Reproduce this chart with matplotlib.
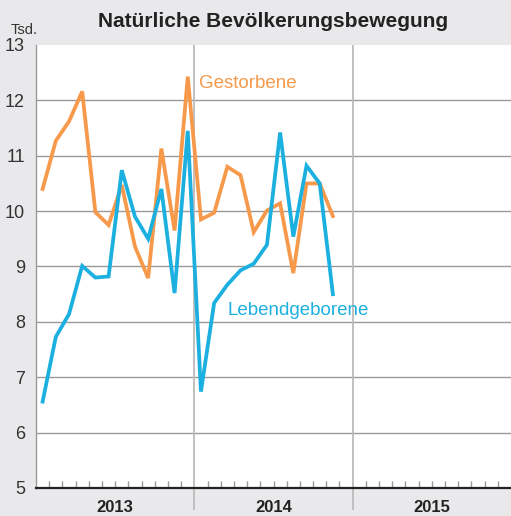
import numpy as np
import matplotlib.pyplot as plt

# -------------------------------
# Data (Tsd., monthly 2013 - Nov 2014)
# -------------------------------
gestorbene = [10.40, 11.27, 11.62, 12.16, 9.98, 9.75, 10.47, 9.36, 8.79, 11.13, 9.65, 12.43,
              9.85, 9.97, 10.80, 10.65, 9.62, 10.01, 10.14, 8.88, 10.50, 10.50, 9.91]
lebendgeborene = [6.56, 7.73, 8.14, 9.01, 8.80, 8.82, 10.74, 9.90, 9.50, 10.40, 8.52, 11.45,
                  6.74, 8.34, 8.67, 8.93, 9.05, 9.39, 11.42, 9.54, 10.82, 10.50, 8.50]
years = ["2013", "2014", "2015"]
yticks = [5, 6, 7, 8, 9, 10, 11, 12, 13]

orange = "#f7994a"
blue = "#1cb0e0"
bg = "#e9e9eb"
font = ["Liberation Sans", "DejaVu Sans"]

fig = plt.figure(figsize=(5.11, 5.16), dpi=100, facecolor=bg)
ax = fig.add_axes([0.0705, 0.0543, 0.9295, 0.8585])
ax.set_facecolor("white")

x_g = np.arange(len(gestorbene)) + 0.5
x_l = np.arange(len(lebendgeborene)) + 0.5

ax.set_xlim(0, 36)
ax.set_ylim(5, 13)

for y in yticks[1:-1]:
    ax.axhline(y, color="#999999", lw=1.0, zorder=1)

# year separators (reach down into label area)
ax.vlines([12, 24], 4.6, 13, color="#bbbbbb", lw=1.3, clip_on=False, zorder=1)

ax.plot(x_g, gestorbene, color=orange, lw=2.7, solid_joinstyle="miter", zorder=3)
ax.plot(x_l, lebendgeborene, color=blue, lw=2.7, solid_joinstyle="miter", zorder=4)

ax.text(12.35, 12.3, "Gestorbene", color=orange, fontsize=13.5, family=font,
        ha="left", va="center")
ax.text(14.55, 8.2, "Lebendgeborene", color=blue, fontsize=13.5, family=font,
        ha="left", va="center")

for s in ["top", "right"]:
    ax.spines[s].set_visible(False)
ax.spines["left"].set_color("#999999")
ax.spines["left"].set_linewidth(1.0)
ax.spines["bottom"].set_color("#222222")
ax.spines["bottom"].set_linewidth(1.6)

ax.set_yticks(yticks)
ax.set_yticklabels([str(v) for v in yticks], fontsize=13, family=font, color="#333333")
ax.tick_params(axis="y", length=0, pad=8)

months = [m for m in range(1, 36) if m not in (12, 24)]
ax.set_xticks(months)
ax.set_xticklabels([])
ax.tick_params(axis="x", direction="in", length=5, color="#999999", width=1)

for i, yr in enumerate(years):
    ax.text(6 + 12 * i, 4.64, yr, fontsize=12, fontweight="bold", family=font,
            ha="center", va="center", color="#222222")

fig.text(0.535, 0.958, "Natürliche Bevölkerungsbewegung", fontsize=15, fontweight="bold",
         family=font, ha="center", va="center", color="#222222")
fig.text(0.02, 0.942, "Tsd.", fontsize=10.5, family=font, ha="left", va="center", color="#333333")

fig.savefig("out.png", dpi=100, facecolor=bg)
